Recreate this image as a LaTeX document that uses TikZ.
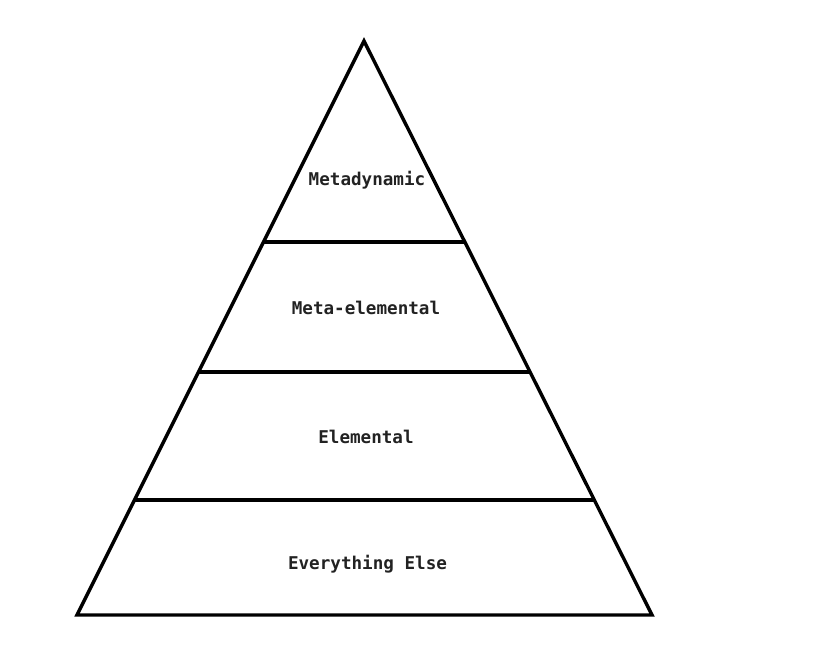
\documentclass[tikz,border=0pt]{standalone}
\usepackage{fontspec}
\newfontfamily\labelfont{DejaVu Sans Mono}[BoldFont={DejaVu Sans Mono Bold}]
\definecolor{txt}{HTML}{222222}
\begin{document}
\begin{tikzpicture}[x=1pt,y=-1pt,
  layer/.style={draw=black,line width=3.4pt,line join=miter},
  lbl/.style={font=\labelfont\bfseries\fontsize{17.6}{19}\selectfont,text=txt,inner sep=0pt}]
\useasboundingbox (0,0) rectangle (816,646);
\coordinate (apex) at (364,41);
\coordinate (bl) at (77,615);
\coordinate (br) at (652,615);
\draw[layer] (apex) -- (br) -- (bl) -- cycle;
\draw[layer] (263.5,242) -- (464.8,242);
\draw[layer] (198.5,372) -- (529.5,372);
\draw[layer] (134.5,500) -- (593.5,500);
\node[lbl] (m1) at (367,180) {Metadynamic};
\node[lbl] (m2) at (366,308) {Meta-elemental};
\node[lbl] (m3) at (366,437) {Elemental};
\node[lbl] (m4) at (367.5,564) {Everything Else};
\end{tikzpicture}
\end{document}
